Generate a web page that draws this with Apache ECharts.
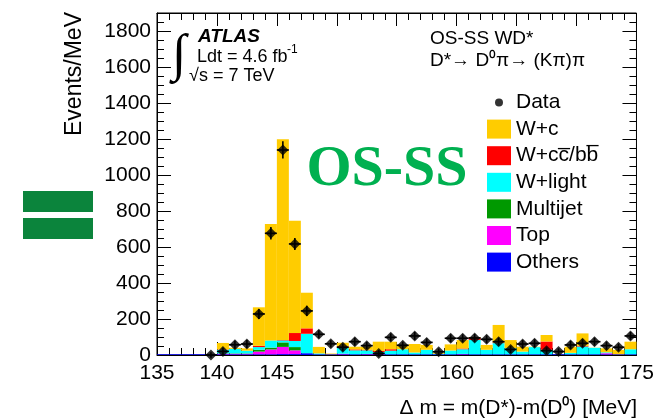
<!DOCTYPE html>
<html><head><meta charset="utf-8">
<script src="https://cdn.jsdelivr.net/npm/echarts@6/dist/echarts.min.js"></script>
<style>html,body{margin:0;padding:0;background:#fff}#c{width:657px;height:418px}</style>
</head><body><div id="c"></div>
<script>
// bin lower edges [MeV], 1 MeV bins
const binLow = [135,136,137,138,139,140,141,142,143,144,145,146,147,148,149,150,151,152,153,154,155,156,157,158,159,160,161,162,163,164,165,166,167,168,169,170,171,172,173,174];
// stacked components (Events/MeV per bin), bottom to top
const others   = [4,4,4,4,4, 4,4,4,4,4, 5,5,10,4,4, 4,4,4,4,4, 4,4,4,4,4, 4,4,4,4,4, 4,4,4,4,4, 4,4,4,4,4];
const topv     = [0,0,0,0,0, 3,3,3,15,27, 40,21,0,0,0, 3,0,2,3,0, 0,0,0,0,0, 2,0,0,0,0, 0,0,0,0,0, 0,0,6,0,0];
const multijet = [0,0,0,0,0, 2,2,2,10,10, 25,18,0,0,0, 0,0,0,0,0, 0,0,0,0,0, 0,0,0,0,0, 0,0,0,0,0, 0,0,0,0,0];
const wlight   = [0,0,0,0,0, 20,25,15,15,40, 11,34,108,5,0, 35,22,20,10,20, 28,10,25,3,21, 26,80,25,62,34, 15,40,25,0,8, 43,36,5,0,28];
const wccbb    = [0,0,0,0,0, 2,0,0,7,0, 3,44,30,0,0, 6,5,3,6,8, 0,0,0,0,0, 4,12,0,3,0, 0,0,46,0,0, 4,0,0,0,0];
const wc       = [0,0,0,0,0, 36,6,13,214,647, 1114,624,198,36,4, 20,15,17,51,42, 24,47,27,5,34, 47,4,27,98,45, 27,2,36,0,34, 69,1,22,24,42];
// data points (bin centres) and errors
const dataVal  = [null,null,null,null,0, 20,57,61,228,676, 1139,617,245,115,62, 43,74,52,9,98, 54,106,70,18,93, 93,95,87,74,31, 61,65,24,19,56, 65,74,52,43,106];
const dataErr  = [null,null,null,null,15, 20,22,22,28,35, 48,33,28,22,20, 20,22,20,18,22, 20,22,22,18,22, 22,22,22,22,20, 22,22,18,18,22, 22,22,22,20,22];
const xTicks = [135,140,145,150,155,160,165,170,175];
const yTicks = [0,200,400,600,800,1000,1200,1400,1600,1800];

const FONT = 'Liberation Sans';
const comps = [
  {name:'Others', vals: others, color:'#0000ff'},
  {name:'Top', vals: topv, color:'#ff00ff'},
  {name:'Multijet', vals: multijet, color:'#009900'},
  {name:'W+light', vals: wlight, color:'#00ffff'},
  {name:'W+cc\u0305/bb\u0305', vals: wccbb, color:'#ff0000'},
  {name:'W+c', vals: wc, color:'#ffcc00'}
];
const cum = binLow.map(() => 0);
function renderBar(params, api) {
  const x0 = api.value(0), y0 = api.value(1), y1 = api.value(2);
  if (y1 <= y0) return null;
  const p0 = api.coord([x0, y0]);
  const p1 = api.coord([x0 + 1, y1]);
  return {type:'rect', shape:{x:p0[0], y:p1[1], width:p1[0]-p0[0], height:p0[1]-p1[1]},
          style:{fill: api.visual('color')}};
}
const barSeries = comps.map(c => {
  const d = binLow.map((x, i) => { const b = cum[i]; cum[i] += c.vals[i]; return [x, b, cum[i]]; });
  return {type:'custom', name:c.name, renderItem: renderBar, data: d,
          encode:{x:0, y:[1,2]}, itemStyle:{color:c.color}, z:2};
});
const pts = [], errs = [];
binLow.forEach((x, i) => {
  if (dataVal[i] !== null) { pts.push([x + 0.5, dataVal[i]]); errs.push([x + 0.5, dataVal[i], dataErr[i]]); }
});
const errSeries = {
  type:'custom', name:'DataErr', data: errs, encode:{x:0, y:1}, z:3,
  renderItem: function(params, api) {
    const x = api.value(0), y = api.value(1), e = api.value(2);
    const a = api.coord([x, y - e]), b = api.coord([x, y + e]);
    const l = api.coord([x - 0.5, y]), r = api.coord([x + 0.5, y]);
    return {type:'group', children:[
      {type:'line', shape:{x1:a[0], y1:a[1], x2:b[0], y2:b[1]}, style:{stroke:'#000', lineWidth:1.6}},
      {type:'line', shape:{x1:l[0], y1:l[1], x2:r[0], y2:r[1]}, style:{stroke:'#000', lineWidth:1.6}}
    ]};
  }
};
const dataSeries = {type:'scatter', name:'Data', data: pts, symbol:'diamond', symbolSize:11,
  itemStyle:{color:'#000'}, z:4};

function xAx(pos, labels) {
  return {type:'value', min:xTicks[0], max:xTicks[xTicks.length-1], interval:5, position:pos,
    axisLine:{show:true, onZero:false, lineStyle:{color:'#000', width:1}},
    axisTick:{show:true, inside:true, length:13, lineStyle:{color:'#000', width:1}},
    minorTick:{show:true, splitNumber:5, length:7, lineStyle:{color:'#000', width:1}},
    splitLine:{show:false}, minorSplitLine:{show:false},
    axisLabel:{show:labels, color:'#000', fontFamily:FONT, fontSize:21, margin:8}};
}
function yAx(pos, interval, len, labels) {
  return {type:'value', min:0, max:1900, interval:interval, position:pos,
    axisLine:{show:labels, onZero:false, lineStyle:{color:'#000', width:1}},
    axisTick:{show:true, inside:true, length:len, lineStyle:{color:'#000', width:1}},
    splitLine:{show:false},
    axisLabel:{show:labels, color:'#000', fontFamily:FONT, fontSize:21, margin:6, showMaxLabel:false,
      formatter: v => (yTicks.indexOf(v) >= 0 ? String(v) : '')}};
}

const chart = echarts.init(document.getElementById('c'));
chart.setOption({
  animation:false,
  backgroundColor:'#fff',
  grid:{left:157, right:20, top:13, bottom:63, show:true, borderColor:'#000', borderWidth:1, backgroundColor:'transparent'},
  xAxis:[xAx('bottom', true), xAx('top', false)],
  yAxis:[yAx('left', 200, 14, true), yAx('left', 50, 7, false), yAx('right', 200, 14, false), yAx('right', 50, 7, false)],
  legend:{orient:'vertical', left:487, top:92, padding:0, itemWidth:24, itemHeight:19, itemGap:5.6,
    icon:'rect', selectedMode:false,
    textStyle:{fontFamily:FONT, fontSize:21, color:'#000', padding:[0,0,0,0]},
    data:[{name:'Data', icon:'path://M0,0L0.01,0M24,19L23.99,19M8,9.5A4,4 0 1,0 16,9.5A4,4 0 1,0 8,9.5Z'},
          'W+c','W+cc\u0305/bb\u0305','W+light','Multijet','Top','Others']},
  series:[...barSeries, errSeries, dataSeries],
  graphic:[
    {type:'rect', shape:{x:23, y:191, width:70, height:21}, style:{fill:'#0b843c'}},
    {type:'rect', shape:{x:23, y:218, width:70, height:21}, style:{fill:'#0b843c'}},
    {type:'text', x:387, y:170, style:{text:'OS-SS', font:'bold 58px "Liberation Serif"', fill:'#00b050', textAlign:'center', textVerticalAlign:'middle'}},
    {type:'text', x:179, y:56, style:{text:'\u222b', font:'52px "Liberation Serif"', fill:'#000', textAlign:'center', textVerticalAlign:'middle'}},
    {type:'text', x:198, y:37, style:{text:'ATLAS', font:'italic bold 19px "Liberation Sans"', fill:'#000', textAlign:'left', textVerticalAlign:'middle'}},
    {type:'text', x:197, y:57, style:{text:'Ldt = 4.6 fb', font:'18px "Liberation Sans"', fill:'#000', textAlign:'left', textVerticalAlign:'middle'}},
    {type:'text', x:287, y:50, style:{text:'-1', font:'12px "Liberation Sans"', fill:'#000', textAlign:'left', textVerticalAlign:'middle'}},
    {type:'text', x:189, y:76, style:{text:'\u221as = 7 TeV', font:'18px "Liberation Sans"', fill:'#000', textAlign:'left', textVerticalAlign:'middle'}},
    {type:'text', x:430, y:39, style:{text:'OS-SS WD*', font:'19px "Liberation Sans"', fill:'#000', textAlign:'left', textVerticalAlign:'middle'}},
    {type:'text', x:430, y:61, style:{text:'D*\u2192 D\u2070\u03c0\u2192 (K\u03c0)\u03c0', font:'19px "Liberation Sans"', fill:'#000', textAlign:'left', textVerticalAlign:'middle'}},
    {type:'text', x:637, y:408, style:{text:'\u0394 m = m(D*)-m(D\u2070) [MeV]', font:'21px "Liberation Sans"', fill:'#000', textAlign:'right', textVerticalAlign:'middle'}},
    {type:'text', x:75, y:12, rotation:Math.PI/2, style:{text:'Events/MeV', font:'23px "Liberation Sans"', fill:'#000', textAlign:'right', textVerticalAlign:'middle'}}
  ]
});
</script>
</body></html>
